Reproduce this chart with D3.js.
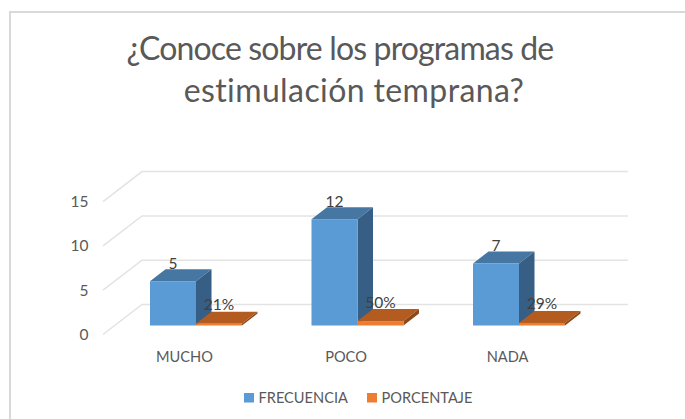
<!DOCTYPE html>
<html>
<head>
<meta charset="utf-8">
<script src="https://cdn.jsdelivr.net/npm/d3@7"></script>
<style>
body { margin: 0; background: #fff; }
text { font-family: Lato, sans-serif; fill: #595959; font-variant-ligatures: none; }
</style>
</head>
<body>
<div id="chart"></div>
<script>
var categories = ["MUCHO", "POCO", "NADA"];
var frecuencia = [5, 12, 7];
var porcentaje = [0.21, 0.50, 0.29];
var porcentajeLabels = ["21%", "50%", "29%"];
var yTicks = [0, 5, 10, 15];
var seriesNames = ["FRECUENCIA", "PORCENTAJE"];

var width = 685, height = 419;

var svg = d3.select("#chart").append("svg")
    .attr("width", width)
    .attr("height", height)
    .style("display", "block");

// chart frame, only top and left show in the crop
svg.append("path")
    .attr("d", "M10,419V12H685")
    .attr("fill", "none")
    .attr("stroke", "#d9d9d9")
    .attr("stroke-width", 2);

var title = svg.append("text")
    .attr("text-anchor", "middle")
    .style("font-size", "32px");
title.append("tspan").attr("x", 340).attr("y", 60)
    .style("letter-spacing", "-0.85px")
    .text("¿Conoce sobre los programas de");
title.append("tspan").attr("x", 354).attr("y", 102)
    .style("letter-spacing", "0.4px")
    .text("estimulación temprana?");

// y is measured on the front plane of the bars
var y = d3.scaleLinear().domain([0, 15]).range([325.5, 192.6]);
var x = d3.scalePoint().domain(categories).range([196, 519]);

var barW = 46;
var depth = {x: 15.5, y: -12};      // bar depth
var wallOffY = 9;                   // wall front edge sits below the bar plane
var wallDepth = {x: 39, y: -30};
var gridStart = 103, gridEnd = 628;

var grid = svg.append("g");
yTicks.forEach(function(t) {
    var y0 = y(t) + wallOffY;
    grid.append("path")
        .attr("d", "M" + gridStart + "," + y0 + "l" + wallDepth.x + "," + wallDepth.y + "H" + gridEnd)
        .attr("fill", "none")
        .attr("stroke", "#e3e3e3")
        .attr("stroke-width", 1.5);
});

var yAxis = d3.axisLeft(y).tickValues(yTicks).tickSize(0).tickPadding(0);
var yAxisG = svg.append("g")
    .attr("transform", "translate(88.5," + wallOffY + ")")
    .call(yAxis);
yAxisG.select(".domain").remove();
yAxisG.selectAll("text").style("font-family", "Lato, sans-serif").style("font-size", "15.5px");

function box(g, x0, v, colors) {
    var top = y(v), base = y(0), x1 = x0 + barW;
    // top face
    g.append("path")
        .attr("d", "M" + x0 + "," + top + "l" + depth.x + "," + depth.y + "h" + barW + "l" + (-depth.x) + "," + (-depth.y) + "Z")
        .attr("fill", colors[1]);
    // side face
    g.append("path")
        .attr("d", "M" + x1 + "," + top + "l" + depth.x + "," + depth.y + "V" + (base + depth.y) + "l" + (-depth.x) + "," + (-depth.y) + "Z")
        .attr("fill", colors[2]);
    // front face
    g.append("rect")
        .attr("x", x0)
        .attr("y", top)
        .attr("width", barW)
        .attr("height", base - top)
        .attr("fill", colors[0]);
}

var blue = ["#5b9bd5", "#4676a2", "#375f85"];
var orange = ["#ed7d31", "#b45c20", "#8e4816"];

var bars = svg.append("g");
categories.forEach(function(c, i) {
    box(bars, x(c) - barW, frecuencia[i], blue);
    box(bars, x(c), porcentaje[i], orange);
});

var labels = svg.append("g").attr("text-anchor", "middle").style("font-size", "15.5px");
categories.forEach(function(c, i) {
    labels.append("text")
        .attr("x", x(c) - barW / 2)
        .attr("y", y(frecuencia[i]) + depth.y - 0.5)
        .style("fill", "#404040")
        .text(frecuencia[i]);
    labels.append("text")
        .attr("x", x(c) + barW / 2)
        .attr("y", y(porcentaje[i]) + depth.y - 1.5)
        .style("fill", "#404040")
        .text(porcentajeLabels[i]);
    labels.append("text")
        .attr("x", x(c) - 11.5)
        .attr("y", 361.5)
        .style("font-size", "14.6px")
        .text(c);
});

var legendX = [244, 367];
var legendColors = ["#5b9bd5", "#ed7d31"];
var legend = svg.append("g");
seriesNames.forEach(function(s, i) {
    legend.append("rect")
        .attr("x", legendX[i])
        .attr("y", 393)
        .attr("width", 10)
        .attr("height", 9.5)
        .attr("fill", legendColors[i]);
    legend.append("text")
        .attr("x", legendX[i] + 14.5)
        .attr("y", 402.5)
        .style("font-size", "14.6px")
        .text(s);
});
</script>
</body>
</html>
